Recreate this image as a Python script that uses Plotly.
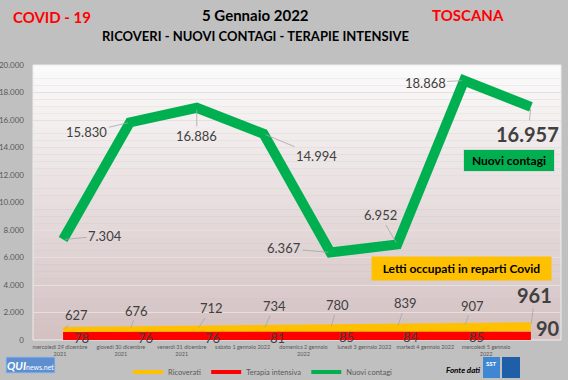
import plotly.graph_objects as go

# ---------------- data ----------------
dates = ["29/12/2021", "30/12/2021", "31/12/2021", "01/01/2022",
         "02/01/2022", "03/01/2022", "04/01/2022", "05/01/2022"]
tick_labels = ["mercoledì 29 dicembre<br>2021", "giovedì 30 dicembre<br>2021",
               "venerdì 31 dicembre<br>2021", "sabato 1 gennaio 2022",
               "domenica 2 gennaio<br>2022", "lunedì 3 gennaio 2022",
               "martedì 4 gennaio 2022", "mercoledì 5 gennaio<br>2022"]
ricoverati = [627, 676, 712, 734, 780, 839, 907, 961]
terapia = [78, 76, 76, 81, 85, 84, 85, 90]
contagi = [7304, 15830, 16886, 14994, 6367, 6952, 18868, 16957]

# label offsets (px) for data labels
contagi_off = [(42, -4), (-43, 10), (0, 28), (53, 22), (-46, -4), (-17, -29), (-39, 2), (-3, 27)]
ricov_off = [(13, -16), (7, -20), (15, -22), (11, -24), (7, -24), (8, -25), (8, -22), (4, -32)]
terap_off = [(18, -1), (16, -1), (16, -1), (14, -1), (16, -2), (14, -2), (12, -2), (17, -11)]

YELLOW = "#ffc000"
RED = "#ff0000"
GREEN = "#00b050"
FONT = "Lato"
LBL = "#404040"

L, R, T, B = 33, 561, 65, 340
PW, PH = R - L, B - T


def px(x):
    return (x - L) / PW


def py(y):
    return (B - y) / PH


def fmt(v):
    return f"{v:,}".replace(",", ".")


fig = go.Figure()

# gradient plot background
n = 40
top = (251, 250, 250)
bot = (212, 193, 194)
for i in range(n):
    t = i / (n - 1)
    c = tuple(round(top[k] + (bot[k] - top[k]) * t) for k in range(3))
    fig.add_shape(type="rect", xref="x domain", yref="y domain",
                  x0=0, x1=1, y0=1 - (i + 1) / n, y1=1 - i / n,
                  fillcolor=f"rgb{c}", line_width=0, layer="below")
fig.add_shape(type="rect", xref="x domain", yref="y domain", x0=0, x1=1, y0=0, y1=1,
              line=dict(color="#ececec", width=1), fillcolor="rgba(0,0,0,0)", layer="below")

fig.add_trace(go.Scatter(x=dates, y=ricoverati, mode="lines", name="Ricoverati",
                         line=dict(color=YELLOW, width=9), showlegend=False))
fig.add_trace(go.Scatter(x=dates, y=terapia, mode="lines", name="Terapia intensiva",
                         line=dict(color=RED, width=14), showlegend=False))
fig.add_trace(go.Scatter(x=dates, y=contagi, mode="lines", name="Nuovi contagi",
                         line=dict(color=GREEN, width=10), showlegend=False))

# legend entries (thin samples)
for nm, col in [("Ricoverati", YELLOW), ("Terapia intensiva", RED), ("Nuovi contagi", GREEN)]:
    fig.add_trace(go.Scatter(x=[None], y=[None], mode="lines", name=nm,
                             line=dict(color=col, width=4), xaxis="x2"))

ann = []
for i, (d, v) in enumerate(zip(dates, contagi)):
    last = i == len(dates) - 1
    ax, ay = contagi_off[i]
    ann.append(dict(x=d, y=v, ax=ax, ay=ay, text=("<b>%s</b>" if last else "%s") % fmt(v),
                    showarrow=True, arrowhead=0, arrowwidth=0.8, arrowcolor="#a6a6a6",
                    standoff=2, font=dict(family=FONT, size=20 if last else 13, color=LBL)))
for i, (d, v) in enumerate(zip(dates, ricoverati)):
    last = i == len(dates) - 1
    ax, ay = ricov_off[i]
    ann.append(dict(x=d, y=v, ax=ax, ay=ay, text=("<b>%s</b>" if last else "%s") % fmt(v),
                    showarrow=True, arrowhead=0, arrowwidth=0.8, arrowcolor="#a6a6a6",
                    standoff=3, font=dict(family=FONT, size=20 if last else 13, color=LBL)))
for i, (d, v) in enumerate(zip(dates, terapia)):
    last = i == len(dates) - 1
    ax, ay = terap_off[i]
    ann.append(dict(x=d, y=v, xshift=ax, yshift=-ay, text=("<b>%s</b>" if last else "%s") % fmt(v),
                    showarrow=False, xanchor="center", yanchor="middle",
                    font=dict(family=FONT, size=20 if last else 13, color=LBL)))


def paper_ann(x, y, text, size, color, **kw):
    d = dict(xref="paper", yref="paper", x=px(x), y=py(y), text=text, showarrow=False,
             xanchor="center", yanchor="middle",
             font=dict(family=FONT, size=size, color=color))
    d.update(kw)
    ann.append(d)


# text boxes
paper_ann(509, 160, "<b>Nuovi contagi</b>", 12, "#000000", bgcolor=GREEN,
          bordercolor="#d9d9d9", borderwidth=1, borderpad=3, width=84)
paper_ann(461, 268, "<b>Letti occupati in reparti Covid</b>", 12, "#000000",
          bgcolor=YELLOW, borderpad=4, width=171)

# titles
paper_ann(52, 17, "<b>COVID - 19</b>", 15, "#ff0000")
paper_ann(255, 15, "<b>5 Gennaio 2022</b>", 15, "#000000")
paper_ann(255, 36, "<b>RICOVERI - NUOVI CONTAGI - TERAPIE INTENSIVE</b>", 13, "#000000")
paper_ann(468, 15, "<b>TOSCANA</b>", 15, "#ff0000")

# footer logos
paper_ann(30, 365, "<b><i>QUI</i></b><span style='font-size:7px'>news.net</span>", 11, "#ffffff")
paper_ann(463, 370, "<b><i>Fonte dati</i></b>", 8, "#000000")
paper_ann(491, 363, "<b>SST</b>", 6, "#ffffff")

shapes_extra = [
    dict(type="rect", xref="paper", yref="paper", x0=px(6), x1=px(55),
         y0=py(373), y1=py(357), fillcolor="#5d8fd0",
         line=dict(color="#9dbbe4", width=1)),
    dict(type="rect", xref="paper", yref="paper", x0=px(483), x1=px(500),
         y0=py(378), y1=py(357), fillcolor="#3f86d3", line_width=0),
    dict(type="rect", xref="paper", yref="paper", x0=px(502), x1=px(520),
         y0=py(378), y1=py(357), fillcolor="#1f5fa8", line_width=0),
]
for s in shapes_extra:
    fig.add_shape(**s)

fig.update_layout(
    width=568, height=380,
    margin=dict(l=L, r=568 - R, t=T, b=380 - B, autoexpand=False),
    paper_bgcolor="#c0c0c0",
    plot_bgcolor="rgba(0,0,0,0)",
    separators=",.",
    font=dict(family=FONT, color="#595959"),
    annotations=ann,
    xaxis=dict(type="category", categoryorder="array", categoryarray=dates,
               range=[-0.45, 7.45], showticklabels=False, showgrid=False, zeroline=False,
               showline=False, ticks=""),
    xaxis2=dict(overlaying="x", side="bottom", range=[-0.443, 8.23],
                tickmode="array", tickvals=list(range(len(tick_labels))), ticktext=tick_labels,
                tickangle=0, tickfont=dict(family=FONT, size=5.5, color="#595959"),
                showgrid=False, zeroline=False, showline=False, ticks="", ticklabelstandoff=2),
    yaxis=dict(range=[0, 20000], tickmode="array", tickvals=list(range(0, 20001, 2000)),
               tickformat=",d", tickfont=dict(family=FONT, size=8, color="#595959"),
               gridcolor="#e6dfdf", gridwidth=1, zeroline=False, showline=False,
               ticklabelstandoff=8),
    legend=dict(orientation="h", x=px(263), xanchor="center",
                y=py(372), yanchor="middle", bgcolor="rgba(0,0,0,0)",
                font=dict(family=FONT, size=7.5, color="#595959"),
                itemwidth=30, tracegroupgap=0),
    showlegend=True,
)

fig.write_html("out.html", config={"displayModeBar": False},
               post_script="document.body.style.margin='0';document.body.style.overflow='hidden';")
